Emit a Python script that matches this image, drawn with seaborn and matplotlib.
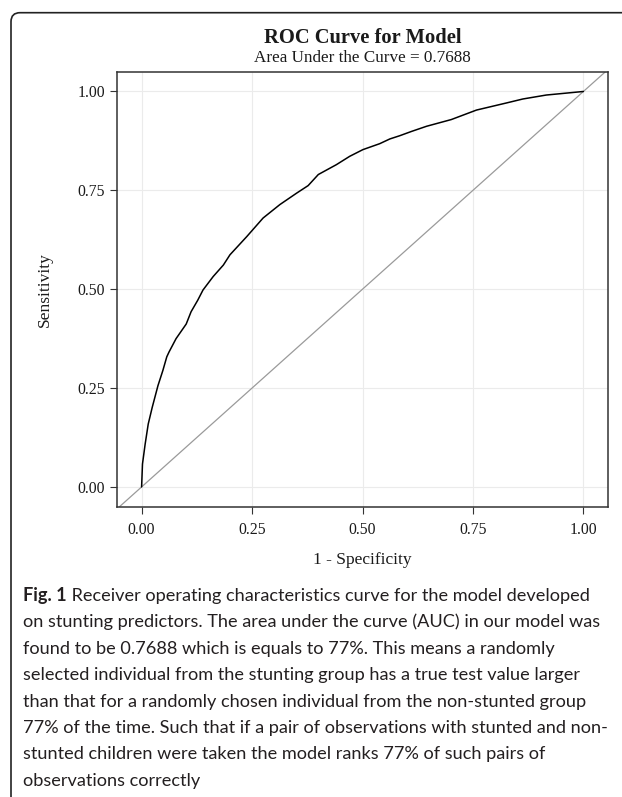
import matplotlib
matplotlib.use("Agg")
import matplotlib.pyplot as plt
import seaborn as sns
import pandas as pd
from matplotlib.patches import FancyBboxPatch

sns.set_theme(style="whitegrid")
plt.rcParams["font.family"] = ["Liberation Serif", "DejaVu Serif"]

# ROC curve points
fpr = [0.0, 0.002, 0.008, 0.015, 0.024, 0.037, 0.048, 0.057, 0.062, 0.078,
       0.101, 0.112, 0.127, 0.139, 0.162, 0.185, 0.200, 0.238, 0.275, 0.313,
       0.351, 0.377, 0.400, 0.441, 0.471, 0.501, 0.539, 0.562, 0.584, 0.611,
       0.645, 0.701, 0.758, 0.826, 0.863, 0.916, 1.0]
tpr = [0.0, 0.058, 0.108, 0.159, 0.201, 0.256, 0.294, 0.329, 0.341, 0.375,
       0.412, 0.443, 0.472, 0.498, 0.532, 0.561, 0.587, 0.633, 0.680, 0.714,
       0.743, 0.762, 0.790, 0.815, 0.836, 0.853, 0.868, 0.880, 0.888, 0.899,
       0.912, 0.929, 0.953, 0.971, 0.981, 0.991, 1.0]
ticks = [0.0, 0.25, 0.5, 0.75, 1.0]
tick_labels = ["0.00", "0.25", "0.50", "0.75", "1.00"]
auc = 0.7688

caption_lines = [
    " Receiver operating characteristics curve for the model developed",
    "on stunting predictors. The area under the curve (AUC) in our model was",
    "found to be 0.7688 which is equals to 77%. This means a randomly",
    "selected individual from the stunting group has a true test value larger",
    "than that for a randomly chosen individual from the non-stunted group",
    "77% of the time. Such that if a pair of observations with stunted and non-",
    "stunted children were taken the model ranks 77% of such pairs of",
    "observations correctly",
]

df = pd.DataFrame({"fpr": fpr, "tpr": tpr})

W, H = 622, 797
fig = plt.figure(figsize=(W / 100, H / 100), dpi=100)
fig.patch.set_facecolor("white")

# panel position in pixels
left, right, top, bottom = 117.3, 607.7, 71.7, 506.7
ax = fig.add_axes([left / W, 1 - bottom / H, (right - left) / W, (bottom - top) / H])
ax.set_facecolor("white")

ax.axline((0, 0), slope=1, color="#9a9a9a", lw=0.9, zorder=2)
sns.lineplot(data=df, x="fpr", y="tpr", sort=False, color="black", lw=1.1,
             ax=ax, zorder=3)

ax.set_xlim(-0.055, 1.055)
ax.set_ylim(-0.05, 1.05)
ax.set_xticks(ticks)
ax.set_xticklabels(tick_labels)
ax.set_yticks(ticks)
ax.set_yticklabels(tick_labels)
ax.grid(True, color="#ebebeb", lw=0.8)
for s in ax.spines.values():
    s.set_visible(True)
    s.set_color("#333333")
    s.set_linewidth(1.1)
ax.tick_params(axis="both", which="major", length=5, width=0.8, color="#333333",
               labelsize=11.3, labelcolor="#1a1a1a", direction="out")
ax.tick_params(axis="y", pad=4)
ax.tick_params(axis="x", pad=6)
ax.tick_params(left=True, bottom=True)

ax.set_xlabel("1 - Specificity", fontsize=12.5, color="#1a1a1a", va="center")
ax.set_ylabel("Sensitivity", fontsize=12.5, color="#1a1a1a", va="center")
ax.xaxis.set_label_coords(0.5, (bottom - 560) / (bottom - top))
ax.yaxis.set_label_coords((45 - left) / (right - left), 0.5)

cx = (left + right) / 2 / W
fig.text(cx, 1 - 42.7 / H, "ROC Curve for Model", ha="center", va="baseline",
         fontsize=14.8, fontweight="bold", color="#1a1a1a")
fig.text(cx, 1 - 61.5 / H, f"Area Under the Curve = {auc:.4f}", ha="center",
         va="baseline", fontsize=12.3, color="#1a1a1a")

# outer rounded frame of the journal figure
frame = FancyBboxPatch((11, -40), 700, H - 12.7 + 40, boxstyle="round,pad=0,rounding_size=9",
                       transform=None, fill=False, ec="#222222", lw=1.2)
fig.patches.append(frame)

# caption
cap_font = ["Lato", "DejaVu Sans"]
cap_size = 13.1
x0 = 23
base0, step = 601, 26.4
fig_lbl = fig.text(x0 / W, 1 - base0 / H, "Fig. 1", family=cap_font, fontsize=cap_size,
                   fontweight="bold", color="#231f20", va="baseline")
renderer = fig.canvas.get_renderer()
bb = fig_lbl.get_window_extent(renderer)
for i, line in enumerate(caption_lines):
    xs = bb.x1 / W if i == 0 else x0 / W
    fig.text(xs, 1 - (base0 + i * step) / H, line, family=cap_font, fontsize=cap_size,
             color="#231f20", va="baseline")

fig.savefig("out.png", dpi=100)
